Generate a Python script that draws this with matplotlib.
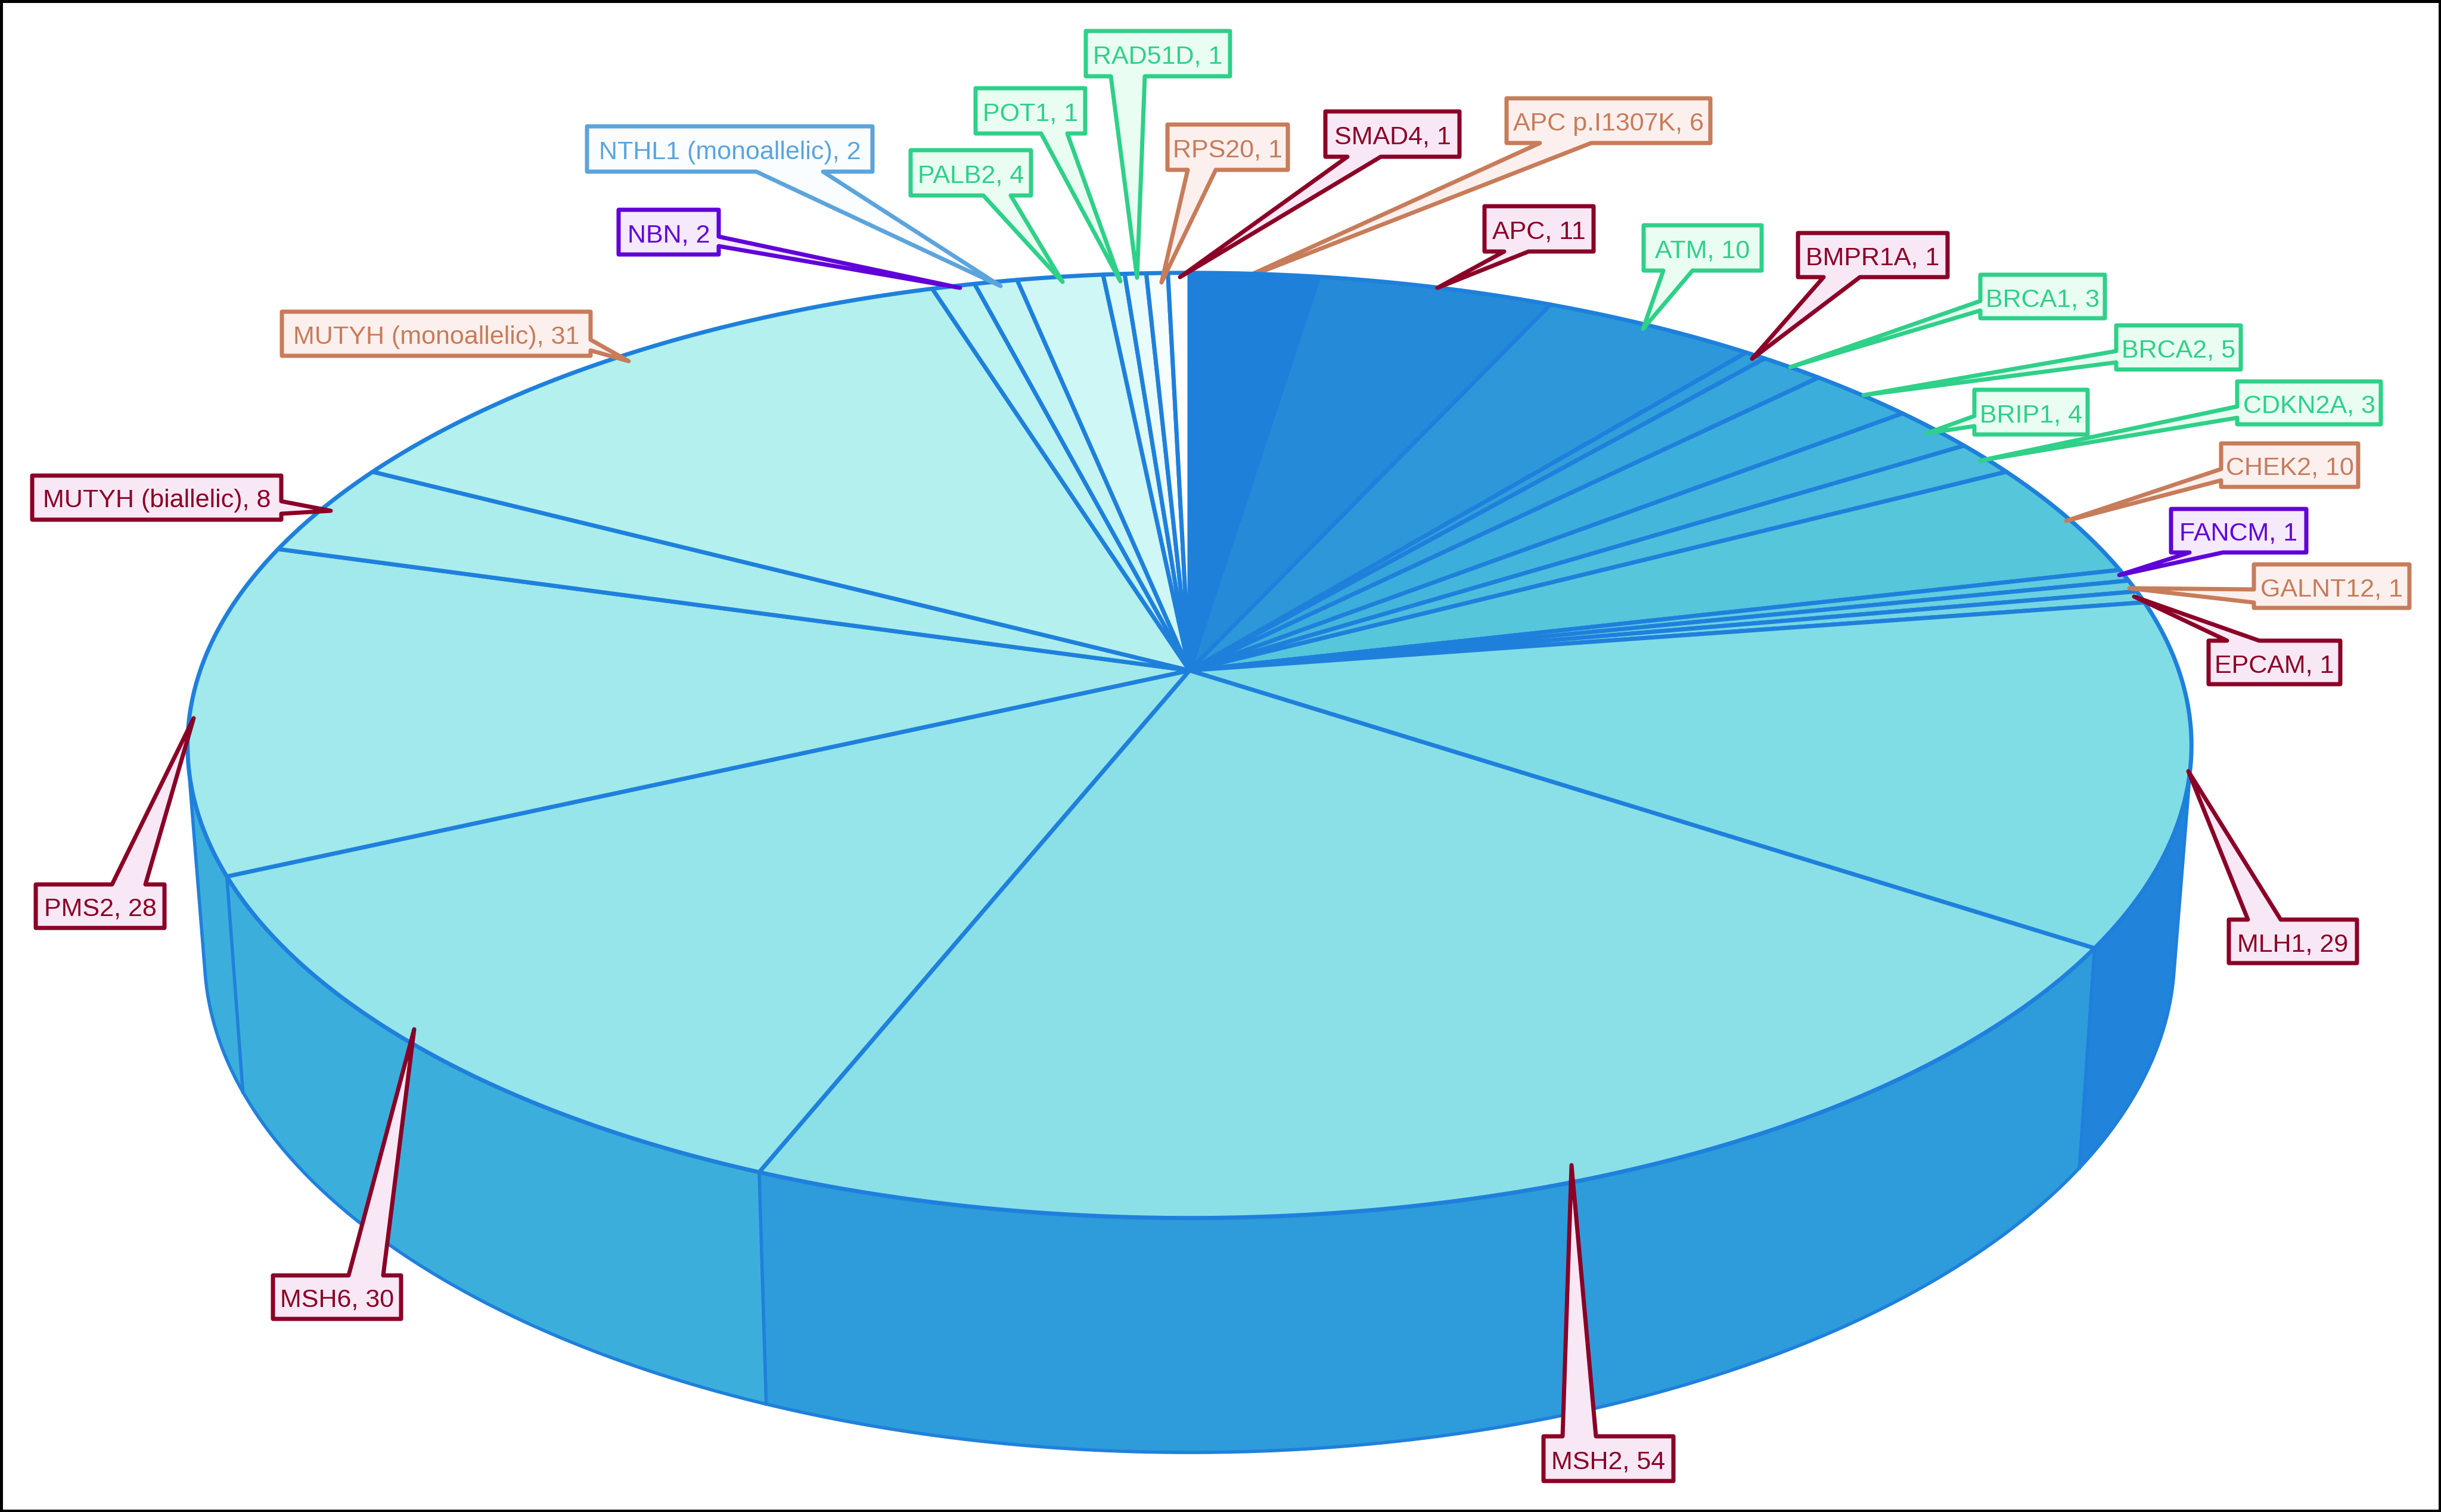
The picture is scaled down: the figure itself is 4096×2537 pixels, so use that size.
import matplotlib
matplotlib.use('Agg')
import matplotlib.pyplot as plt
from matplotlib.colors import LinearSegmentedColormap, to_hex
from matplotlib.patches import Polygon, Rectangle
import numpy as np

# genes clockwise from 12 o'clock
genes = ['APC p.I1307K', 'APC', 'ATM', 'BMPR1A', 'BRCA1', 'BRCA2', 'BRIP1', 'CDKN2A',
         'CHEK2', 'FANCM', 'GALNT12', 'EPCAM', 'MLH1', 'MSH2', 'MSH6', 'PMS2',
         'MUTYH (biallelic)', 'MUTYH (monoallelic)', 'NBN', 'NTHL1 (monoallelic)',
         'PALB2', 'POT1', 'RAD51D', 'RPS20', 'SMAD4']
counts = [6, 11, 10, 1, 3, 5, 4, 3, 10, 1, 1, 1, 29, 54, 30, 28, 8, 31, 2, 2, 4, 1, 1, 1, 1]
groups = ['low', 'high', 'mod', 'high', 'mod', 'mod', 'mod', 'mod', 'low', 'other', 'low', 'high',
          'high', 'high', 'high', 'high', 'high', 'low', 'other', 'blue', 'mod', 'mod', 'mod', 'low', 'high']

# callout colours: edge/text, fill
group_style = {'high': ('#8A0026', '#F8E8F6'), 'mod': ('#2FD088', '#E9FDF3'),
               'low': ('#C77C5A', '#FCF0EE'), 'other': ('#6000D8', '#F5E9FC'),
               'blue': ('#5CA4DC', '#FAFDFF')}

# label box (x0, y0, x1, y1), side of the tail, tail base (a, b), tail tip
callouts = {
    'APC p.I1307K': ((2525, 162, 2873, 243), 'b', (2584, 2670), (2068, 475)),
    'APC': ((2488, 343, 2677, 425), 'b', (2524, 2565), (2412, 483)),
    'ATM': ((2755, 375, 2959, 457), 'b', (2791, 2840), (2757, 552)),
    'BMPR1A': ((3014, 388, 3271, 468), 'b', (3060, 3121), (2940, 602)),
    'BRCA1': ((3320, 458, 3535, 537), 'l', (505, 521), (3004, 616)),
    'BRCA2': ((3548, 543, 3763, 623), 'l', (589, 608), (3127, 663)),
    'BRIP1': ((3310, 651, 3506, 732), 'l', (698, 715), (3233, 727)),
    'CDKN2A': ((3751, 637, 3998, 715), 'l', (682, 701), (3322, 773)),
    'CHEK2': ((3724, 741, 3960, 820), 'l', (787, 806), (3467, 874)),
    'FANCM': ((3640, 851, 3873, 930), 'b', (3674, 3730), (3556, 965)),
    'GALNT12': ((3779, 944, 4046, 1023), 'l', (989, 1011), (3573, 987)),
    'EPCAM': ((3703, 1072, 3930, 1151), 't', (3737, 3791), (3581, 1001)),
    'MLH1': ((3737, 1540, 3958, 1619), 't', (3772, 3827), (3672, 1294)),
    'MSH2': ((2587, 2407, 2811, 2488), 't', (2622, 2678), (2637, 1955)),
    'MSH6': ((455, 2137, 676, 2216), 't', (585, 643), (695, 1727)),
    'PMS2': ((57, 1481, 279, 1560), 't', (188, 244), (325, 1205)),
    'MUTYH (biallelic)': ((51, 795, 475, 875), 'r', (841, 862), (555, 857)),
    'MUTYH (monoallelic)': ((470, 520, 994, 600), 'r', (570, 588), (1055, 606)),
    'NBN': ((1035, 349, 1209, 430), 'r', (397, 413), (1611, 483)),
    'NTHL1 (monoallelic)': ((982, 209, 1467, 291), 'b', (1269, 1381), (1679, 480)),
    'PALB2': ((1525, 249, 1733, 331), 'b', (1650, 1696), (1783, 473)),
    'POT1': ((1634, 145, 1824, 227), 'b', (1747, 1791), (1880, 472)),
    'RAD51D': ((1819, 49, 2067, 131), 'b', (1864, 1921), (1908, 466)),
    'RPS20': ((1956, 206, 2164, 288), 'b', (1993, 2040), (1949, 474)),
    'SMAD4': ((2221, 184, 2452, 266), 'b', (2261, 2317), (1980, 465)),
}
# this tail runs in under the pie
behind_pie = ['APC p.I1307K']

plt.rcParams['font.family'] = ['Liberation Sans', 'DejaVu Sans']

W, H = 4096, 2537
fig = plt.figure(figsize=(W / 100, H / 100), dpi=100)
ax = fig.add_axes([0, 0, 1, 1])
ax.set_xlim(0, W)
ax.set_ylim(H, 0)
ax.axis('off')

PX = 0.72  # points per pixel at dpi 100
OUTLINE = '#1F80DC'

# perspective circles: (A, B, cy, k)
top_disc = (1660, 773, 1125, 0.1586)
bottom_disc = (1632, 815, 1468, 0.159)
CX = 1996


def project(theta, disc, r=1.0):
    A, B, cy, k = disc
    u, v = r * np.sin(theta), r * np.cos(theta)
    return CX + A * u / (1 + k * v), cy - B * v / (1 + k * v)


def hull(pts):
    # monotone chain, wall outline needs the straight tangents at both sides
    pts = sorted(map(tuple, pts))

    def half(seq):
        out = []
        for p in seq:
            while len(out) > 1 and ((out[-1][0] - out[-2][0]) * (p[1] - out[-2][1])
                                    - (out[-1][1] - out[-2][1]) * (p[0] - out[-2][0])) <= 0:
                out.pop()
            out.append(p)
        return out[:-1]

    return half(pts) + half(pts[::-1])


def wall_points(t0, t1):
    t = np.linspace(t0, t1, 300)
    return np.r_[np.c_[project(t, top_disc)], np.c_[project(t, bottom_disc)]]


edges = np.cumsum([0] + counts) / sum(counts) * 2 * np.pi

cmap = LinearSegmentedColormap.from_list('pie', [(0, '#1F80D9'), (2 / 24, '#2C98DA'), (5 / 24, '#3CAEDB'),
                                                 (8 / 24, '#56C6DB'), (12 / 24, '#80DDE5'), (13 / 24, '#8BE0E8'),
                                                 (15 / 24, '#A0E9EB'), (17 / 24, '#B4F1EE'),
                                                 (20 / 24, '#CDF7F5'), (22 / 24, '#EAFBFB'), (1, '#FFFFFF')])
top_colors = [to_hex(cmap(i / 24)) for i in range(25)]
side_colors = {'MLH1': '#2183D9', 'MSH2': '#2E9BDB', 'MSH6': '#3CAEDB', 'PMS2': '#3CAEDB'}

# side wall, only the slices that face the viewer
wall = [i for i, g in enumerate(genes) if g in side_colors]
for i in wall:
    pts = hull(wall_points(edges[i], edges[i + 1]))
    c = side_colors[genes[i]]
    ax.add_patch(Polygon(pts, closed=True, fc=c, ec=c, lw=1, zorder=2))
ax.add_patch(Polygon(hull(wall_points(edges[wall[0]], edges[wall[-1] + 1])), closed=True, fc='none',
                     ec=OUTLINE, lw=5.5 * PX, joinstyle='round', zorder=3))
for i in wall[1:]:
    xt, yt = project(edges[i], top_disc)
    xb, yb = project(edges[i], bottom_disc)
    ax.plot([xt, xb], [yt, yb], color=OUTLINE, lw=5.5 * PX, zorder=3)

# top face
for i, g in enumerate(genes):
    t = np.linspace(edges[i], edges[i + 1], max(int(counts[i]) * 8, 12))
    xt, yt = project(t, top_disc)
    x0, y0 = project(0.0, top_disc, 0.0)
    pts = np.r_[[[x0, y0]], np.c_[xt, yt]]
    ax.add_patch(Polygon(pts, closed=True, fc=top_colors[i], ec=OUTLINE, lw=7 * PX, joinstyle='round', zorder=4))

# callouts
for g, n, grp in zip(genes, counts, groups):
    (x0, y0, x1, y1), side, (a, b), tip = callouts[g]
    ec, fc = group_style[grp]
    x0, y0, x1, y1 = x0 + 3, y0 + 3, x1 - 3, y1 - 3
    if side == 'b':
        pts = [(x0, y0), (x1, y0), (x1, y1), (b, y1), tip, (a, y1), (x0, y1)]
    elif side == 't':
        pts = [(x0, y0), (a, y0), tip, (b, y0), (x1, y0), (x1, y1), (x0, y1)]
    elif side == 'l':
        pts = [(x0, y0), (x1, y0), (x1, y1), (x0, y1), (x0, b), tip, (x0, a)]
    else:
        pts = [(x0, y0), (x1, y0), (x1, a), tip, (x1, b), (x1, y1), (x0, y1)]
    z = 3 if g in behind_pie else 6
    ax.add_patch(Polygon(pts, closed=True, fc=fc, ec=ec, lw=7 * PX, joinstyle='round', zorder=z))
    ax.text((x0 + x1) / 2, (y0 + y1) / 2 + 1, f'{g}, {n}', color=ec, fontsize=43 * PX,
            ha='center', va='center_baseline', zorder=7)

# frame round the picture
ax.add_patch(Rectangle((0, 0), W, H, fc='none', ec='black', lw=9 * PX, zorder=10))

fig.savefig('out.png', dpi=100)
